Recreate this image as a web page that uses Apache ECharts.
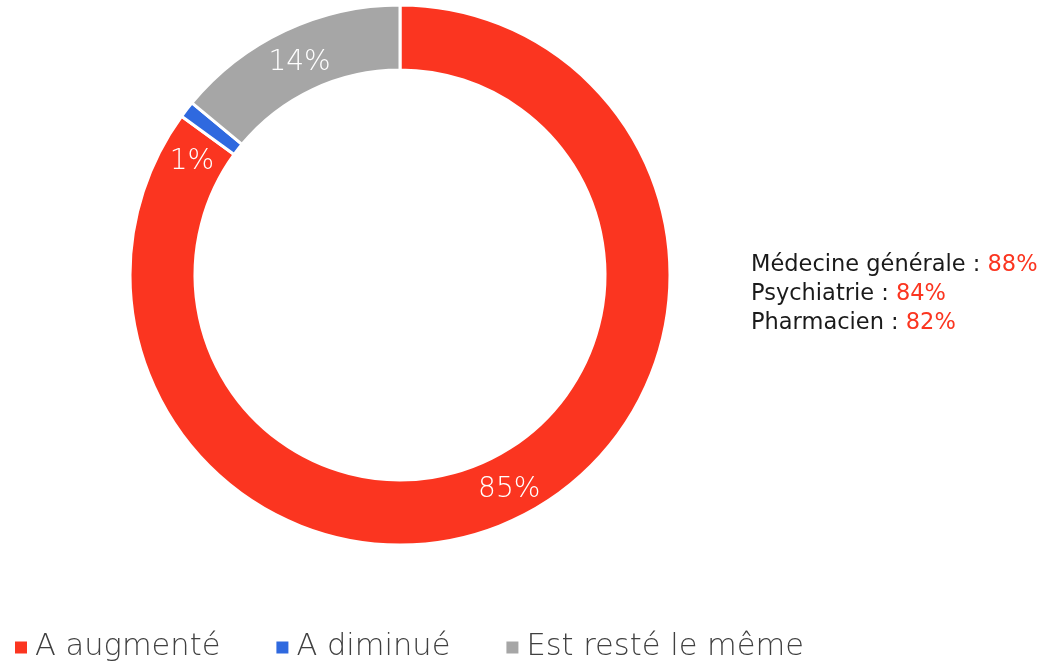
<!DOCTYPE html>
<html>
<head>
<meta charset="utf-8">
<script src="https://cdn.jsdelivr.net/npm/echarts@6/dist/echarts.min.js"></script>
<style>
  html, body { margin: 0; padding: 0; background: #fff; }
  #chart { width: 1055px; height: 661px; }
</style>
</head>
<body>
<div id="chart"></div>
<script>
// Share of answers per category
const categories = ['A augmenté', 'A diminué', 'Est resté le même'];
const values = [85, 1, 14];
const colors = ['#FB3520', '#2F69DF', '#A6A6A6'];

// Breakdown of "A augmenté" by profession
const professions = ['Médecine générale', 'Psychiatrie', 'Pharmacien'];
const professionValues = [88, 84, 82];

const FONT = '"DejaVu Sans", sans-serif';

const noteText = professions
  .map((p, i) => '{k|' + p + ' : }{v|' + professionValues[i] + '%}')
  .join('\n');

const chart = echarts.init(document.getElementById('chart'));
chart.setOption({
  backgroundColor: '#ffffff',
  animation: false,
  color: colors,
  title: {
    text: noteText,
    left: 746,
    top: 246,
    textStyle: {
      fontWeight: 'normal',
      rich: {
        k: { fontFamily: FONT, fontSize: 22.5, fontWeight: 'normal', color: '#1a1a1a', lineHeight: 29 },
        v: { fontFamily: FONT, fontSize: 22.5, fontWeight: 'normal', color: '#FB3520', lineHeight: 29 }
      }
    }
  },
  legend: {
    left: 8,
    top: 627,
    itemWidth: 14,
    itemHeight: 14,
    itemGap: 54,
    icon: 'rect',
    textStyle: { fontFamily: FONT, fontSize: 30.5, fontWeight: 300, color: '#404040', padding: [0, 0, 0, 2] },
    data: categories
  },
  series: [{
    type: 'pie',
    center: [400, 275],
    radius: [205, 270],
    startAngle: 90,
    clockwise: true,
    avoidLabelOverlap: false,
    emphasis: { scale: false },
    itemStyle: { borderColor: '#ffffff', borderWidth: 3 },
    label: {
      show: true,
      position: 'inside',
      formatter: '{c}%',
      color: '#ffffff',
      fontFamily: FONT,
      fontWeight: 300,
      fontSize: 28
    },
    labelLine: { show: false },
    data: categories.map((name, i) => {
      const item = { name: name, value: values[i] };
      if (i === 1) item.label = { offset: [-18, 34] };
      if (i === 2) item.label = { offset: [2, 5] };
      return item;
    })
  }]
});
</script>
</body>
</html>
